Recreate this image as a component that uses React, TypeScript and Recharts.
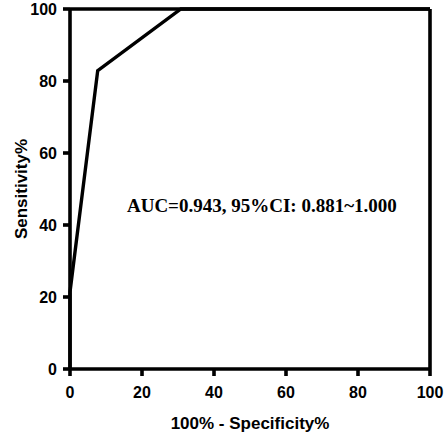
import React from 'react';
import { LineChart, Line, XAxis, YAxis, ReferenceLine, ReferenceDot, Label } from 'recharts';

const fpr = [0, 0, 7.7, 30.8, 100];
const sensitivity = [0, 21.4, 82.9, 100, 100];
const xTicks = [0, 20, 40, 60, 80, 100];
const yTicks = [0, 20, 40, 60, 80, 100];
const xTitle = '100% - Specificity%';
const yTitle = 'Sensitivity%';
const annotation = 'AUC=0.943, 95%CI: 0.881~1.000';

const data = fpr.map((x, i) => ({ x, y: sensitivity[i] }));

const tickStyle = { fill: '#000', fontFamily: 'Liberation Sans, Arial, sans-serif', fontWeight: 700, fontSize: 16 };

export default function App() {
  return (
    <div style={{ position: 'absolute', left: 0, top: 0, width: 447, height: 435, background: '#fff' }}>
      <LineChart width={447} height={435} data={data} margin={{ top: 9, right: 17, left: 10, bottom: 10 }}>
        <XAxis
          dataKey="x"
          type="number"
          domain={[0, 100]}
          ticks={xTicks}
          stroke="#000"
          strokeWidth={3.6}
          tickSize={7}
          tickMargin={11}
          tick={tickStyle}
          height={56}
        >
          <Label
            content={(props: any) => {
              const vb = props.viewBox;
              return (
                <text x={vb.x + vb.width / 2} y={vb.y + 54} textAnchor="middle" dominantBaseline="central"
                  style={{ fontFamily: 'Liberation Sans, Arial, sans-serif', fontWeight: 700, fontSize: 17, fill: '#000' }}>
                  {xTitle}
                </text>
              );
            }}
          />
        </XAxis>
        <YAxis
          dataKey="y"
          type="number"
          domain={[0, 100]}
          ticks={yTicks}
          stroke="#000"
          strokeWidth={3.6}
          tickSize={7}
          tickMargin={6}
          tick={tickStyle}
          width={60}
        >
          <Label
            content={(props: any) => {
              const vb = props.viewBox;
              const cx = 21;
              const cy = vb.y + vb.height / 2;
              return (
                <text x={cx} y={cy} textAnchor="middle" dominantBaseline="central" transform={`rotate(-90 ${cx} ${cy})`}
                  style={{ fontFamily: 'Liberation Sans, Arial, sans-serif', fontWeight: 700, fontSize: 17, fill: '#000' }}>
                  {yTitle}
                </text>
              );
            }}
          />
        </YAxis>
        <ReferenceLine y={100} stroke="#000" strokeWidth={3.6} ifOverflow="visible" />
        <ReferenceLine x={100} stroke="#000" strokeWidth={3.6} ifOverflow="visible" />
        <Line type="linear" dataKey="y" stroke="#000" strokeWidth={3.4} dot={false} isAnimationActive={false} strokeLinejoin="miter" />
        <ReferenceDot
          x={53.3}
          y={45.5}
          r={0}
          fill="none"
          stroke="none"
          ifOverflow="visible"
          label={(props: any) => {
            const vb = props.viewBox;
            const cx = vb.x + (vb.width || 0) / 2;
            const cy = vb.y + (vb.height || 0) / 2;
            return (
              <text x={cx} y={cy} textAnchor="middle" dominantBaseline="central"
                style={{ fontFamily: 'Liberation Serif, Times New Roman, serif', fontWeight: 700, fontSize: 19, fill: '#000' }}>
                {annotation}
              </text>
            );
          }}
        />
      </LineChart>
    </div>
  );
}
